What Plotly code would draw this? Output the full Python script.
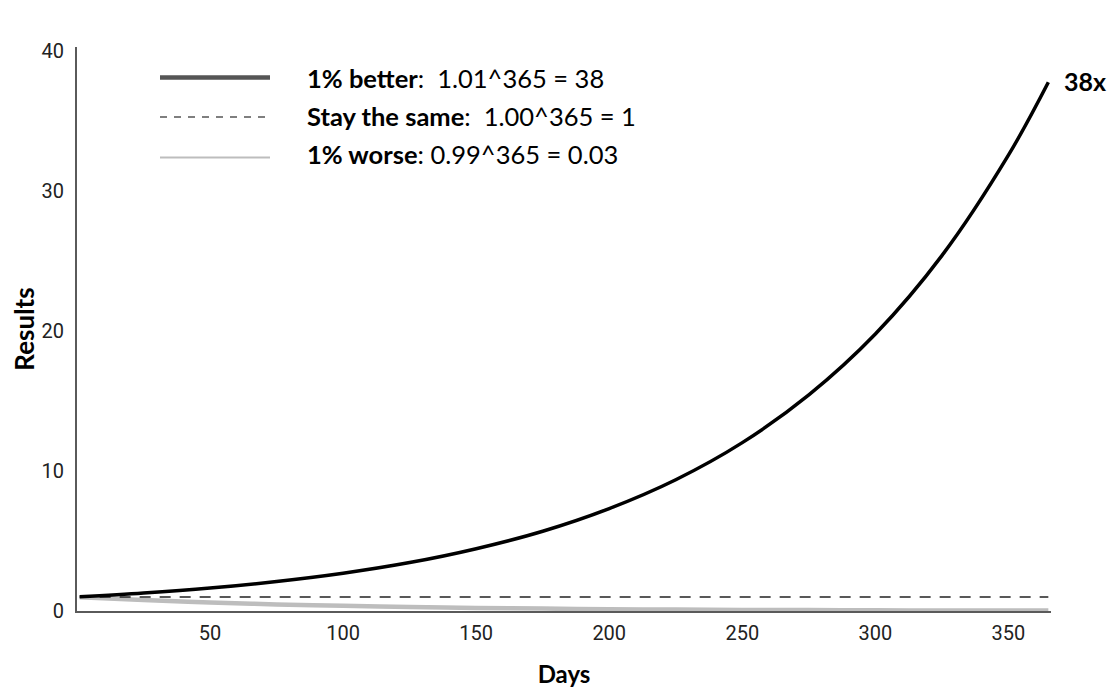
import plotly.graph_objects as go

# values
days = [1, 25, 50, 75, 100, 125, 150, 175, 200, 225, 250, 275, 300, 325, 350, 365]
better = [1.01, 1.28, 1.64, 2.11, 2.70, 3.46, 4.45, 5.70, 7.32, 9.38, 12.03, 15.44, 19.79, 25.39, 32.57, 37.78]
same = [1.0] * len(days)
worse = [0.99, 0.78, 0.61, 0.47, 0.37, 0.28, 0.22, 0.17, 0.13, 0.10, 0.08, 0.07, 0.05, 0.04, 0.03, 0.03]

x_ticks = [50, 100, 150, 200, 250, 300, 350]
y_ticks = [0, 10, 20, 30, 40]

legend_labels = [
    "<b>1% better</b>:\u00a0 1.01^365 = 38",
    "<b>Stay the same</b>:\u00a0 1.00^365 = 1",
    "<b>1% worse</b>: 0.99^365 = 0.03",
]
end_label = "38x"

OFF = 8  # page body margin
W, H = 1116 - OFF, 694 - OFF
ML, MR, MT, MB = 77 - OFF, 65, 47 - OFF, 83

FONT = "Lato, Open Sans, sans-serif"

fig = go.Figure()
fig.add_trace(go.Scatter(x=days, y=worse, mode="lines", line=dict(color="#bdbdbd", width=4.5, shape="spline"), hoverinfo="skip"))
fig.add_trace(go.Scatter(x=days, y=same, mode="lines", line=dict(color="#222222", width=1.6, dash="11px,9px"), hoverinfo="skip"))
fig.add_trace(go.Scatter(x=days, y=better, mode="lines", line=dict(color="#000000", width=3.5, shape="spline"), hoverinfo="skip"))

fig.add_annotation(x=days[-1], y=better[-1], xref="x", yref="y", text="<b>%s</b>" % end_label,
                   showarrow=False, xanchor="left", yanchor="middle", xshift=14, yshift=1,
                   font=dict(family=FONT, size=25, color="#000"))

# legend drawn manually (paper coordinates from page pixel positions)
pw = W - ML - MR
ph = H - MT - MB
def px(xp):
    return (xp - OFF - ML) / pw
def py(yp):
    return 1 - (yp - OFF - MT) / ph

leg_styles = [dict(color="#555555", width=4.5), dict(color="#555555", width=1.5, dash="7px,7px"), dict(color="#bdbdbd", width=2)]
leg_line_y = [77.5, 117, 157.5]
leg_text_y = [78, 116, 154]
for ly, ty, st, lab in zip(leg_line_y, leg_text_y, leg_styles, legend_labels):
    fig.add_shape(type="line", xref="paper", yref="paper", x0=px(160), x1=px(270), y0=py(ly), y1=py(ly), line=st)
    fig.add_annotation(xref="paper", yref="paper", x=px(305), y=py(ty), text=lab, showarrow=False,
                       xanchor="left", yanchor="middle",
                       font=dict(family=FONT, size=25.5, color="#000"))

fig.update_layout(
    width=W, height=H,
    margin=dict(l=ML, r=MR, t=MT, b=MB),
    paper_bgcolor="white", plot_bgcolor="white",
    showlegend=False,
    xaxis=dict(range=[0, 366], tickvals=x_ticks, showgrid=False, zeroline=False, automargin=False,
               showline=True, linecolor="#5a5a5a", linewidth=2, ticks="", ticklen=0,
               ticklabelstandoff=3,
               tickfont=dict(family="Roboto, sans-serif", size=20, color="#222"),
               title=dict(text="<b>Days</b>", font=dict(family=FONT, size=24, color="#000"), standoff=22)),
    yaxis=dict(range=[0, 40.3], tickvals=y_ticks, showgrid=False, zeroline=False, automargin=False,
               showline=True, linecolor="#5a5a5a", linewidth=2, ticks="", ticklen=0,
               ticklabelstandoff=7,
               tickfont=dict(family="Roboto, sans-serif", size=20, color="#222"),
               title=dict(text="<b>Results</b>", font=dict(family=FONT, size=26, color="#000"), standoff=20)),
)

fig.write_html("out.html")
